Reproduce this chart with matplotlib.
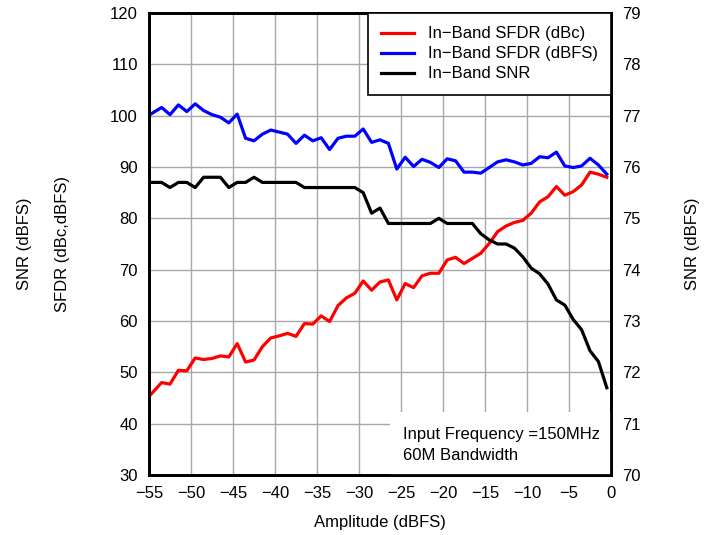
import matplotlib
matplotlib.use("Agg")
import matplotlib.pyplot as plt
from matplotlib.patches import Rectangle

plt.rcParams['font.family'] = ['Liberation Sans', 'DejaVu Sans']
plt.rcParams['font.size'] = 12

# Data
amplitude = [-55.0] + [-53.5 + i for i in range(54)]
sfdr_dbc = [45.3, 48.0, 47.7, 50.4, 50.3, 52.8, 52.5, 52.7, 53.2, 53.0,
            55.6, 52.0, 52.4, 55.0, 56.7, 57.1, 57.6, 57.0, 59.5, 59.4,
            61.0, 59.9, 63.0, 64.5, 65.4, 67.8, 66.0, 67.6, 68.0, 64.1,
            67.3, 66.5, 68.8, 69.3, 69.3, 71.9, 72.4, 71.2, 72.2, 73.2,
            75.1, 77.4, 78.5, 79.2, 79.6, 81.0, 83.2, 84.2, 86.2, 84.5,
            85.2, 86.5, 89.0, 88.6, 88.0]
sfdr_dbfs = [100.1, 101.6, 100.2, 102.1, 100.8, 102.3, 101.0, 100.2, 99.7, 98.6,
             100.3, 95.6, 95.1, 96.4, 97.2, 96.8, 96.4, 94.6, 96.2, 95.1,
             95.7, 93.4, 95.6, 96.0, 96.0, 97.4, 94.8, 95.3, 94.6, 89.6,
             91.9, 90.1, 91.5, 90.9, 89.9, 91.6, 91.2, 89.0, 89.0, 88.8,
             89.9, 91.0, 91.4, 91.0, 90.4, 90.7, 92.0, 91.8, 92.9, 90.2,
             89.9, 90.2, 91.7, 90.4, 88.6]
snr = [75.7, 75.7, 75.6, 75.7, 75.7, 75.6, 75.8, 75.8, 75.8, 75.6,
       75.7, 75.7, 75.8, 75.7, 75.7, 75.7, 75.7, 75.7, 75.6, 75.6,
       75.6, 75.6, 75.6, 75.6, 75.6, 75.5, 75.1, 75.2, 74.9, 74.9,
       74.9, 74.9, 74.9, 74.9, 75.0, 74.9, 74.9, 74.9, 74.9, 74.7,
       74.58, 74.5, 74.5, 74.42, 74.25, 74.03, 73.92, 73.72, 73.41, 73.31,
       73.03, 72.83, 72.42, 72.21, 71.7]

x_ticks = [-55, -50, -45, -40, -35, -30, -25, -20, -15, -10, -5, 0]
left_ticks = [30, 40, 50, 60, 70, 80, 90, 100, 110, 120]
right_ticks = [70, 71, 72, 73, 74, 75, 76, 77, 78, 79]

fig = plt.figure(figsize=(7.16, 5.35), dpi=100)
ax = fig.add_axes([149/716, 1-475/535, 462/716, 462/535])
ax2 = ax.twinx()

l1, = ax.plot(amplitude, sfdr_dbc, color='#ff0000', lw=2.3, label='In\u2212Band SFDR (dBc)')
l2, = ax.plot(amplitude, sfdr_dbfs, color='#0000ff', lw=2.3, label='In\u2212Band SFDR (dBFS)')
l3, = ax2.plot(amplitude, snr, color='black', lw=2.3, label='In\u2212Band SNR')

ax.set_xlim(-55, 0)
ax.set_ylim(30, 120)
ax2.set_ylim(70, 79)
ax.set_xticks(x_ticks)
ax.set_yticks(left_ticks)
ax2.set_yticks(right_ticks)
ax.grid(True, color='#a8a8a8', lw=1.0)
ax.set_axisbelow(True)
for a in (ax, ax2):
    a.tick_params(length=0, labelsize=12, pad=8)
    for s in a.spines.values():
        s.set_linewidth(2.0)
        s.set_color('black')
        s.set_zorder(5)

# text box region
ax2.add_patch(Rectangle(((390-149)/462, 0), 1-(390-149)/462, (475-412)/462,
                        transform=ax2.transAxes, facecolor='white', edgecolor='none', zorder=3))
ax2.text((403-149)/462, (475-435)/462, 'Input Frequency =150MHz', transform=ax2.transAxes,
         ha='left', va='center', fontsize=12, zorder=4)
ax2.text((403-149)/462, (475-455)/462, '60M Bandwidth', transform=ax2.transAxes,
         ha='left', va='center', fontsize=12, zorder=4)

leg = ax2.legend(handles=[l1, l2, l3], loc='upper right', bbox_to_anchor=(1, 1),
                 borderaxespad=0, fancybox=False, framealpha=1, edgecolor='black',
                 fontsize=12, handlelength=2.0, handletextpad=0.8, labelspacing=0.3,
                 borderpad=0.8)
leg.get_frame().set_linewidth(1.2)
leg.set_zorder(10)

ax.set_xlabel('Amplitude (dBFS)', fontsize=12, labelpad=10)
fig.text(25/716, 1-244/535, 'SNR (dBFS)', rotation=90, ha='center', va='center', fontsize=12)
fig.text(62/716, 1-244/535, 'SFDR (dBc,dBFS)', rotation=90, ha='center', va='center', fontsize=12)
fig.text(693/716, 1-244/535, 'SNR (dBFS)', rotation=90, ha='center', va='center', fontsize=12)

fig.savefig('out.png', dpi=100)
